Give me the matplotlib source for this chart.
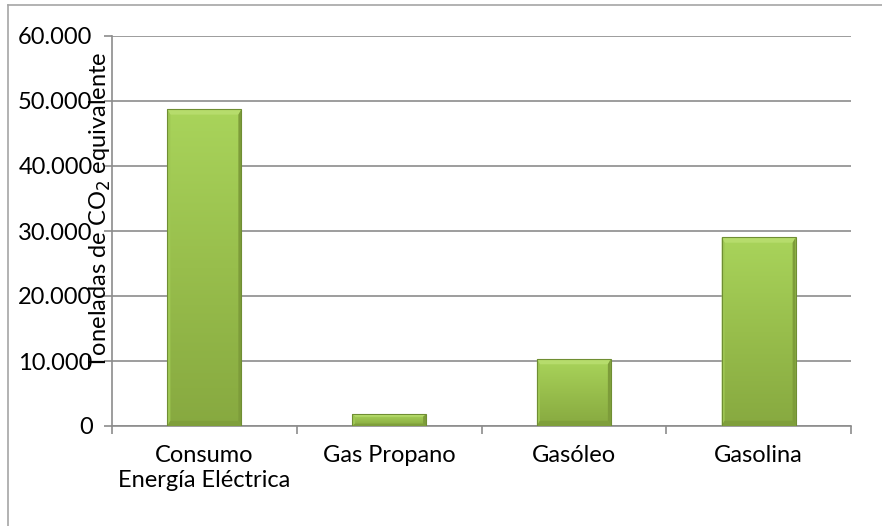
import matplotlib
matplotlib.use("Agg")
import matplotlib.pyplot as plt
import numpy as np
from matplotlib.colors import LinearSegmentedColormap
from matplotlib.ticker import FuncFormatter
from matplotlib.patches import Polygon

categories = ["Consumo\nEnergía Eléctrica", "Gas Propano", "Gasóleo", "Gasolina"]
values = [48700, 1800, 10300, 29000]
yticks = [0, 10000, 20000, 30000, 40000, 50000, 60000]

plt.rcParams['font.family'] = ['Lato', 'DejaVu Sans']
FS = 17

fig = plt.figure(figsize=(8.82, 5.26), dpi=100)
ax = fig.add_axes([112/882, 1-426/526, (851-112)/882, 390/526])

x = np.arange(len(categories))
bars = ax.bar(x, values, width=0.4, color="#98BE4C", zorder=3)

cmap = LinearSegmentedColormap.from_list("g", ["#87A940", "#98BE4C", "#A9D45B"])
grad = np.linspace(0, 1, 256).reshape(-1, 1)
for b in bars:
    x0, y0 = b.get_x(), b.get_y()
    w, h = b.get_width(), b.get_height()
    im = ax.imshow(grad, cmap=cmap, aspect="auto", extent=[x0, x0 + w, y0, y0 + h],
                   origin="lower", zorder=4, interpolation="bicubic")
    im.set_clip_path(b)
    dx = 0.016
    dy = min(800, h * 0.2)
    top = Polygon([[x0, y0 + h], [x0 + w, y0 + h], [x0 + w - dx, y0 + h - dy], [x0 + dx, y0 + h - dy]],
                  closed=True, facecolor="#B6DC6C", edgecolor="none", zorder=5)
    right = Polygon([[x0 + w, y0 + h], [x0 + w, y0], [x0 + w - dx, y0 + dy], [x0 + w - dx, y0 + h - dy]],
                    closed=True, facecolor="#7D9C3A", edgecolor="none", zorder=5)
    left = Polygon([[x0, y0 + h], [x0, y0], [x0 + dx, y0 + dy], [x0 + dx, y0 + h - dy]],
                   closed=True, facecolor="#9FC853", edgecolor="none", zorder=5)
    bottom = Polygon([[x0, y0], [x0 + w, y0], [x0 + w - dx, y0 + dy], [x0 + dx, y0 + dy]],
                     closed=True, facecolor="#7F9F3B", edgecolor="none", zorder=5)
    for p in (top, right, left, bottom):
        ax.add_patch(p)
    ax.add_patch(plt.Rectangle((x0, y0), w, h, fill=False, edgecolor="#6F8E33", lw=0.8, zorder=6))

ax.set_xlim(-0.5, len(categories) - 0.5)
ax.set_ylim(0, 60000)
ax.set_yticks(yticks)
ax.yaxis.set_major_formatter(FuncFormatter(lambda v, p: f"{int(v):,}".replace(",", ".")))
ax.grid(axis="y", color="#8C8C8C", lw=1.2, zorder=0)
ax.set_axisbelow(True)

ax.set_xticks(x)
ax.set_xticklabels(categories, fontsize=FS, linespacing=1.2)
ax.tick_params(axis="x", length=0, pad=14)
ax.set_xticks(np.arange(-0.5, len(categories)), minor=True)
ax.tick_params(axis="x", which="minor", length=6, color="#8C8C8C", width=1.2, direction="out")
ax.tick_params(axis="y", length=6, color="#8C8C8C", width=1.2, labelsize=FS, pad=8)

for s in ["top", "right"]:
    ax.spines[s].set_visible(False)
for s in ["left", "bottom"]:
    ax.spines[s].set_color("#8C8C8C")
    ax.spines[s].set_linewidth(1.2)

fig.text(100/882, 1 - 210/526, "Toneladas de CO$_2$ equivalente", rotation=90,
         fontsize=FS, ha="center", va="center")

fig.add_artist(plt.Line2D([8/882, 8/882], [0, 1 - 5/526], transform=fig.transFigure, color="#A6A6A6", lw=1.2))
fig.add_artist(plt.Line2D([8/882, 1], [1 - 5/526, 1 - 5/526], transform=fig.transFigure, color="#A6A6A6", lw=1.2))

fig.savefig("out.png", dpi=100)
